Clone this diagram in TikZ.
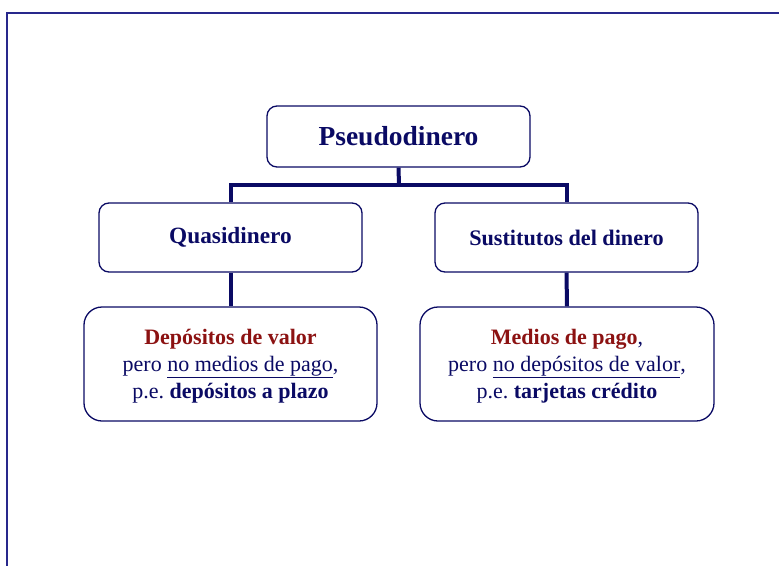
\documentclass[tikz,border=0pt]{standalone}
\usepackage{fontspec}
\setmainfont{Liberation Serif}
\definecolor{navy}{RGB}{10,10,100}
\definecolor{framec}{RGB}{40,40,140}
\definecolor{dred}{RGB}{140,18,18}
\begin{document}
\begin{tikzpicture}[x=1pt,y=-1pt,
  box/.style={draw=navy, line width=1.3pt, fill=white, rounded corners=10pt, text=navy, align=center, inner sep=0pt},
  bigbox/.style={box, rounded corners=18pt, minimum height=114pt, font=\fontsize{22}{27}\selectfont},
  conn/.style={draw=navy, line width=4pt, line join=miter}]
\useasboundingbox (0,0) rectangle (779,565);
\draw[framec, line width=2pt] (7,570) -- (7,12.5) -- (785,12.5);
\node[box, minimum width=263pt, minimum height=61pt, font=\fontsize{27.5}{30}\selectfont\bfseries] (P) at (398.5,136.5) {Pseudodinero};
\node[box, minimum width=263pt, minimum height=69pt, font=\fontsize{23.3}{26}\selectfont\bfseries] (Q) at (230.5,237.5) {Quasidinero};
\node[box, minimum width=263pt, minimum height=69pt, font=\fontsize{22.2}{26}\selectfont\bfseries] (S) at (566.5,237.5) {Sustitutos del dinero};
\node[bigbox, minimum width=293pt] (L) at (230.5,364) {\rule{0pt}{19pt}\textbf{\color{dred}Depósitos de valor}\\pero \underline{no medios de pago},\\p.e.\ \textbf{depósitos a plazo}};
\node[bigbox, minimum width=294pt] (R) at (567,364) {\rule{0pt}{19pt}\textbf{\color{dred}Medios de pago},\\pero \underline{no depósitos de valor},\\p.e.\ \textbf{tarjetas crédito}};
\coordinate (j) at (399,185);
\draw[conn] (P.south) -- (j);
\draw[conn] (Q.north) |- (j) -| (S.north);
\draw[conn] (Q.south) -- (L.north);
\draw[conn] (S.south) -- (R.north);
\end{tikzpicture}
\end{document}
